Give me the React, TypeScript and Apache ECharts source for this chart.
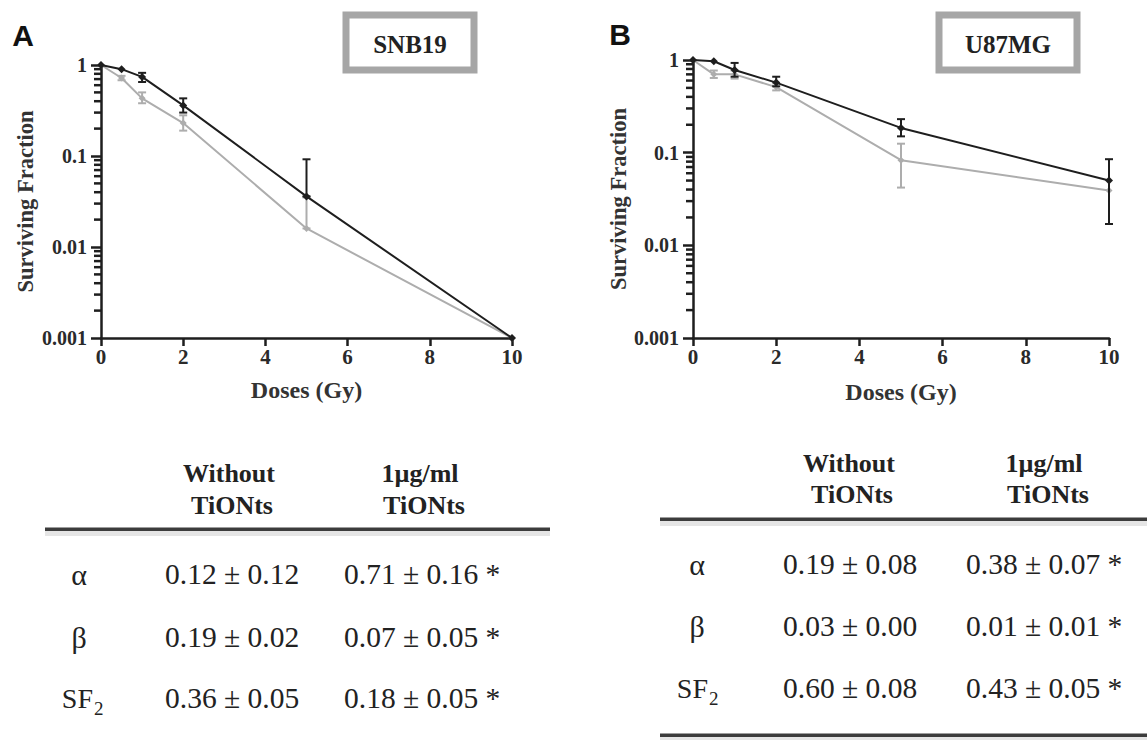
import React, { useEffect, useRef } from "react";
import * as echarts from "echarts";

// ---------- data ----------
const doses = [0, 0.5, 1, 2, 5, 10];
const xTicks = [0, 2, 4, 6, 8, 10];
const yTickLabels = ["0.001", "0.01", "0.1", "1"];
const minorTickValues = [
  0.002, 0.003, 0.004, 0.005, 0.006, 0.007, 0.008, 0.009,
  0.02, 0.03, 0.04, 0.05, 0.06, 0.07, 0.08, 0.09,
  0.2, 0.3, 0.4, 0.5, 0.6, 0.7, 0.8, 0.9,
];

// SNB19 (panel A)
const snbWithout = [1, 0.9, 0.74, 0.36, 0.036, 0.001];
const snbWithoutErr = [
  [1, 0.65, 0.82],
  [2, 0.3, 0.43],
  [5, 0.036, 0.092],
];
const snbTiONts = [1, 0.72, 0.43, 0.23, 0.016, 0.001];
const snbTiONtsErr = [
  [0.5, 0.68, 0.76],
  [1, 0.38, 0.5],
  [2, 0.19, 0.28],
  [5, 0.016, 0.035],
];

// U87MG (panel B)
const u87Without = [1, 0.97, 0.78, 0.57, 0.185, 0.05];
const u87WithoutErr = [
  [1, 0.66, 0.93],
  [2, 0.52, 0.66],
  [5, 0.15, 0.23],
  [10, 0.017, 0.085],
];
const u87TiONts = [1, 0.7, 0.7, 0.51, 0.083, 0.039];
const u87TiONtsErr = [
  [0.5, 0.64, 0.77],
  [1, 0.63, 0.77],
  [2, 0.47, 0.56],
  [5, 0.042, 0.125],
];

// tables
const headerWithout = ["Without", "TiONts"];
const headerTiONts = ["1µg/ml", "TiONts"];
const paramLabels = ["α", "β", "SF"];
const snbWithoutParams = ["0.12 ± 0.12", "0.19 ± 0.02", "0.36 ± 0.05"];
const snbTiONtsParams = ["0.71 ± 0.16 *", "0.07 ± 0.05 *", "0.18 ± 0.05 *"];
const u87WithoutParams = ["0.19 ± 0.08", "0.03 ± 0.00", "0.60 ± 0.08"];
const u87TiONtsParams = ["0.38 ± 0.07 *", "0.01 ± 0.01 *", "0.43 ± 0.05 *"];

// ---------- styling ----------
const SERIF = "Liberation Serif";
const SANS = "Liberation Sans";
const DARK = "#1e1e1e";
const GRAY = "#adadad";

function tickLabel(v: number) {
  const i = Math.round(Math.log10(v)) + 3;
  return yTickLabels[i] ?? "";
}

function errSeries(data: number[][], color: string, idx: number, z: number) {
  return {
    type: "custom",
    xAxisIndex: idx,
    yAxisIndex: idx,
    clip: false,
    z,
    encode: { x: 0, y: [1, 2] },
    data,
    renderItem: (params: any, api: any) => {
      const x = api.value(0);
      const lo = api.coord([x, api.value(1)]);
      const hi = api.coord([x, api.value(2)]);
      const cap = 4;
      const st = { stroke: color, lineWidth: 2 };
      return {
        type: "group",
        children: [
          { type: "line", shape: { x1: lo[0], y1: lo[1], x2: hi[0], y2: hi[1] }, style: st },
          { type: "line", shape: { x1: hi[0] - cap, y1: hi[1], x2: hi[0] + cap, y2: hi[1] }, style: st },
          { type: "line", shape: { x1: lo[0] - cap, y1: lo[1], x2: lo[0] + cap, y2: lo[1] }, style: st },
        ],
      };
    },
  };
}

function lineSeries(values: number[], color: string, idx: number, z: number, size: number) {
  return {
    type: "line",
    xAxisIndex: idx,
    yAxisIndex: idx,
    data: doses.map((d, i) => [d, values[i]]),
    symbol: "diamond",
    symbolSize: size,
    z,
    lineStyle: { color, width: 2 },
    itemStyle: { color },
  };
}

function xAxisCfg(idx: number, nameGap: number) {
  return {
    type: "value",
    gridIndex: idx,
    min: 0,
    max: 10,
    interval: 2,
    name: "Doses (Gy)",
    nameLocation: "middle",
    nameGap,
    nameTextStyle: { fontFamily: SERIF, fontWeight: "bold", fontSize: 24, color: "#333" },
    axisLine: { show: true, onZero: false, lineStyle: { color: DARK, width: 2.5 } },
    axisTick: { show: true, length: 8, lineStyle: { color: DARK, width: 2.5 } },
    splitLine: { show: false },
    axisLabel: {
      fontFamily: SERIF,
      fontWeight: "bold",
      fontSize: 21,
      color: "#2a2a2a",
      margin: 8,
      formatter: (v: number) => (xTicks.includes(v) ? String(v) : ""),
    },
  };
}

function yAxisCfg(idx: number, nameGap: number) {
  return {
    type: "log",
    logBase: 10,
    gridIndex: idx,
    min: 0.001,
    max: 1,
    name: "Surviving Fraction",
    nameLocation: "middle",
    nameGap,
    nameTextStyle: { fontFamily: SERIF, fontWeight: "bold", fontSize: 22.5, color: "#333" },
    axisLine: { show: true, lineStyle: { color: DARK, width: 2.5 } },
    axisTick: { show: true, length: 10, lineStyle: { color: DARK, width: 2.5 } },
    splitLine: { show: false },
    axisLabel: {
      fontFamily: SERIF,
      fontWeight: "bold",
      fontSize: 20,
      color: "#2a2a2a",
      margin: 14,
      formatter: (v: number) => tickLabel(v),
    },
  };
}

function txt(text: string, x: number, y: number, size: number, opts: any = {}) {
  const align = opts.align ?? "center";
  return {
    type: "text",
    x,
    y,
    silent: true,
    style: {
      text,
      fill: opts.color ?? "#222",
      fontFamily: opts.family ?? SERIF,
      fontWeight: opts.weight ?? "normal",
      fontSize: size,
      textAlign: align,
      align,
      textVerticalAlign: "middle",
      verticalAlign: "middle",
    },
  };
}

function rule(x1: number, x2: number, y: number) {
  return [
    {
      type: "rect",
      silent: true,
      shape: { x: x1, y: y + 1, width: x2 - x1, height: 6 },
      style: { fill: "rgba(0,0,0,0.10)" },
    },
    {
      type: "rect",
      silent: true,
      shape: { x: x1, y: y - 1.5, width: x2 - x1, height: 3.5 },
      style: { fill: "#3c3c3c" },
    },
  ];
}

function table(
  headX: [number, number],
  headY: [number, number],
  labelX: number,
  sfX: number,
  col1X: number,
  col2X: number,
  rowY: number[],
  withoutVals: string[],
  tiVals: string[]
) {
  const els: any[] = [];
  headerWithout.forEach((t, i) => els.push(txt(t, headX[0] + (i ? 3 : 0), headY[i], 26, { weight: "bold" })));
  headerTiONts.forEach((t, i) => els.push(txt(t, headX[1] + (i ? 4 : 0), headY[i], 26, { weight: "bold" })));
  paramLabels.forEach((p, i) => {
    if (i < 2) {
      els.push(txt(p, labelX, rowY[i], 30));
    } else {
      els.push(txt(p, sfX, rowY[i], 28, { align: "right" }));
      els.push(txt("2", sfX + 1, rowY[i] + 10, 19, { align: "left" }));
    }
    els.push(txt(withoutVals[i], col1X, rowY[i], 29.5, { align: "left" }));
    els.push(txt(tiVals[i], col2X, rowY[i], 29.5, { align: "left" }));
  });
  return els;
}

export default function App() {
  const ref = useRef<HTMLDivElement>(null);
  useEffect(() => {
    document.body.style.margin = "0";
    if (!ref.current) return;
    const chart = echarts.init(ref.current, undefined, { renderer: "svg" });

    const graphics: any[] = [
      txt("A", 23, 35, 30, { family: SANS, weight: "bold", color: "#111" }),
      txt("B", 620, 34, 30, { family: SANS, weight: "bold", color: "#111" }),
      {
        type: "rect",
        silent: true,
        shape: { x: 346, y: 15, width: 128, height: 55 },
        style: { fill: "#fff", stroke: "#a6a6a6", lineWidth: 7 },
      },
      txt("SNB19", 410, 44, 25, { weight: "bold" }),
      {
        type: "rect",
        silent: true,
        shape: { x: 939, y: 15, width: 138, height: 55 },
        style: { fill: "#fff", stroke: "#a6a6a6", lineWidth: 7 },
      },
      txt("U87MG", 1008, 44, 25, { weight: "bold" }),
      ...rule(45, 550, 529),
      ...rule(660, 1147, 519),
      ...rule(660, 1147, 735),
      ...table([229, 420], [473, 505], 79, 93, 165, 344, [574, 637, 698], snbWithoutParams, snbTiONtsParams),
      ...table([849, 1044], [463, 494], 697, 708, 783, 966, [564, 626, 688], u87WithoutParams, u87TiONtsParams),
    ];

    chart.setOption({
      animation: false,
      backgroundColor: "#fff",
      grid: [
        { left: 101, top: 65, width: 411, height: 273 },
        { left: 693, top: 60, width: 416, height: 278 },
      ],
      xAxis: [xAxisCfg(0, 40), xAxisCfg(1, 42)],
      yAxis: [yAxisCfg(0, 64), yAxisCfg(1, 62)],
      series: [
        lineSeries(snbTiONts, GRAY, 0, 2, 7),
        errSeries(snbTiONtsErr, GRAY, 0, 3),
        lineSeries(snbWithout, DARK, 0, 4, 8),
        errSeries(snbWithoutErr, DARK, 0, 5),
        lineSeries(u87TiONts, GRAY, 1, 2, 7),
        errSeries(u87TiONtsErr, GRAY, 1, 3),
        lineSeries(u87Without, DARK, 1, 4, 8),
        errSeries(u87WithoutErr, DARK, 1, 5),
      ],
      graphic: graphics,
    });

    // log-spaced minor ticks, positioned through the axis scale
    const minorTicks: any[] = [];
    [0, 1].forEach((idx) => {
      minorTickValues.forEach((v) => {
        const p = chart.convertToPixel({ xAxisIndex: idx, yAxisIndex: idx }, [0, v]) as number[];
        if (!p || isNaN(p[0]) || isNaN(p[1])) return;
        minorTicks.push({
          type: "line",
          silent: true,
          z: 50,
          shape: { x1: p[0] - 7, y1: p[1], x2: p[0], y2: p[1] },
          style: { stroke: DARK, lineWidth: 2.5 },
        });
      });
    });
    chart.setOption({ graphic: [...graphics, ...minorTicks] });

    return () => chart.dispose();
  }, []);
  return <div ref={ref} style={{ width: 1147, height: 740 }} />;
}
